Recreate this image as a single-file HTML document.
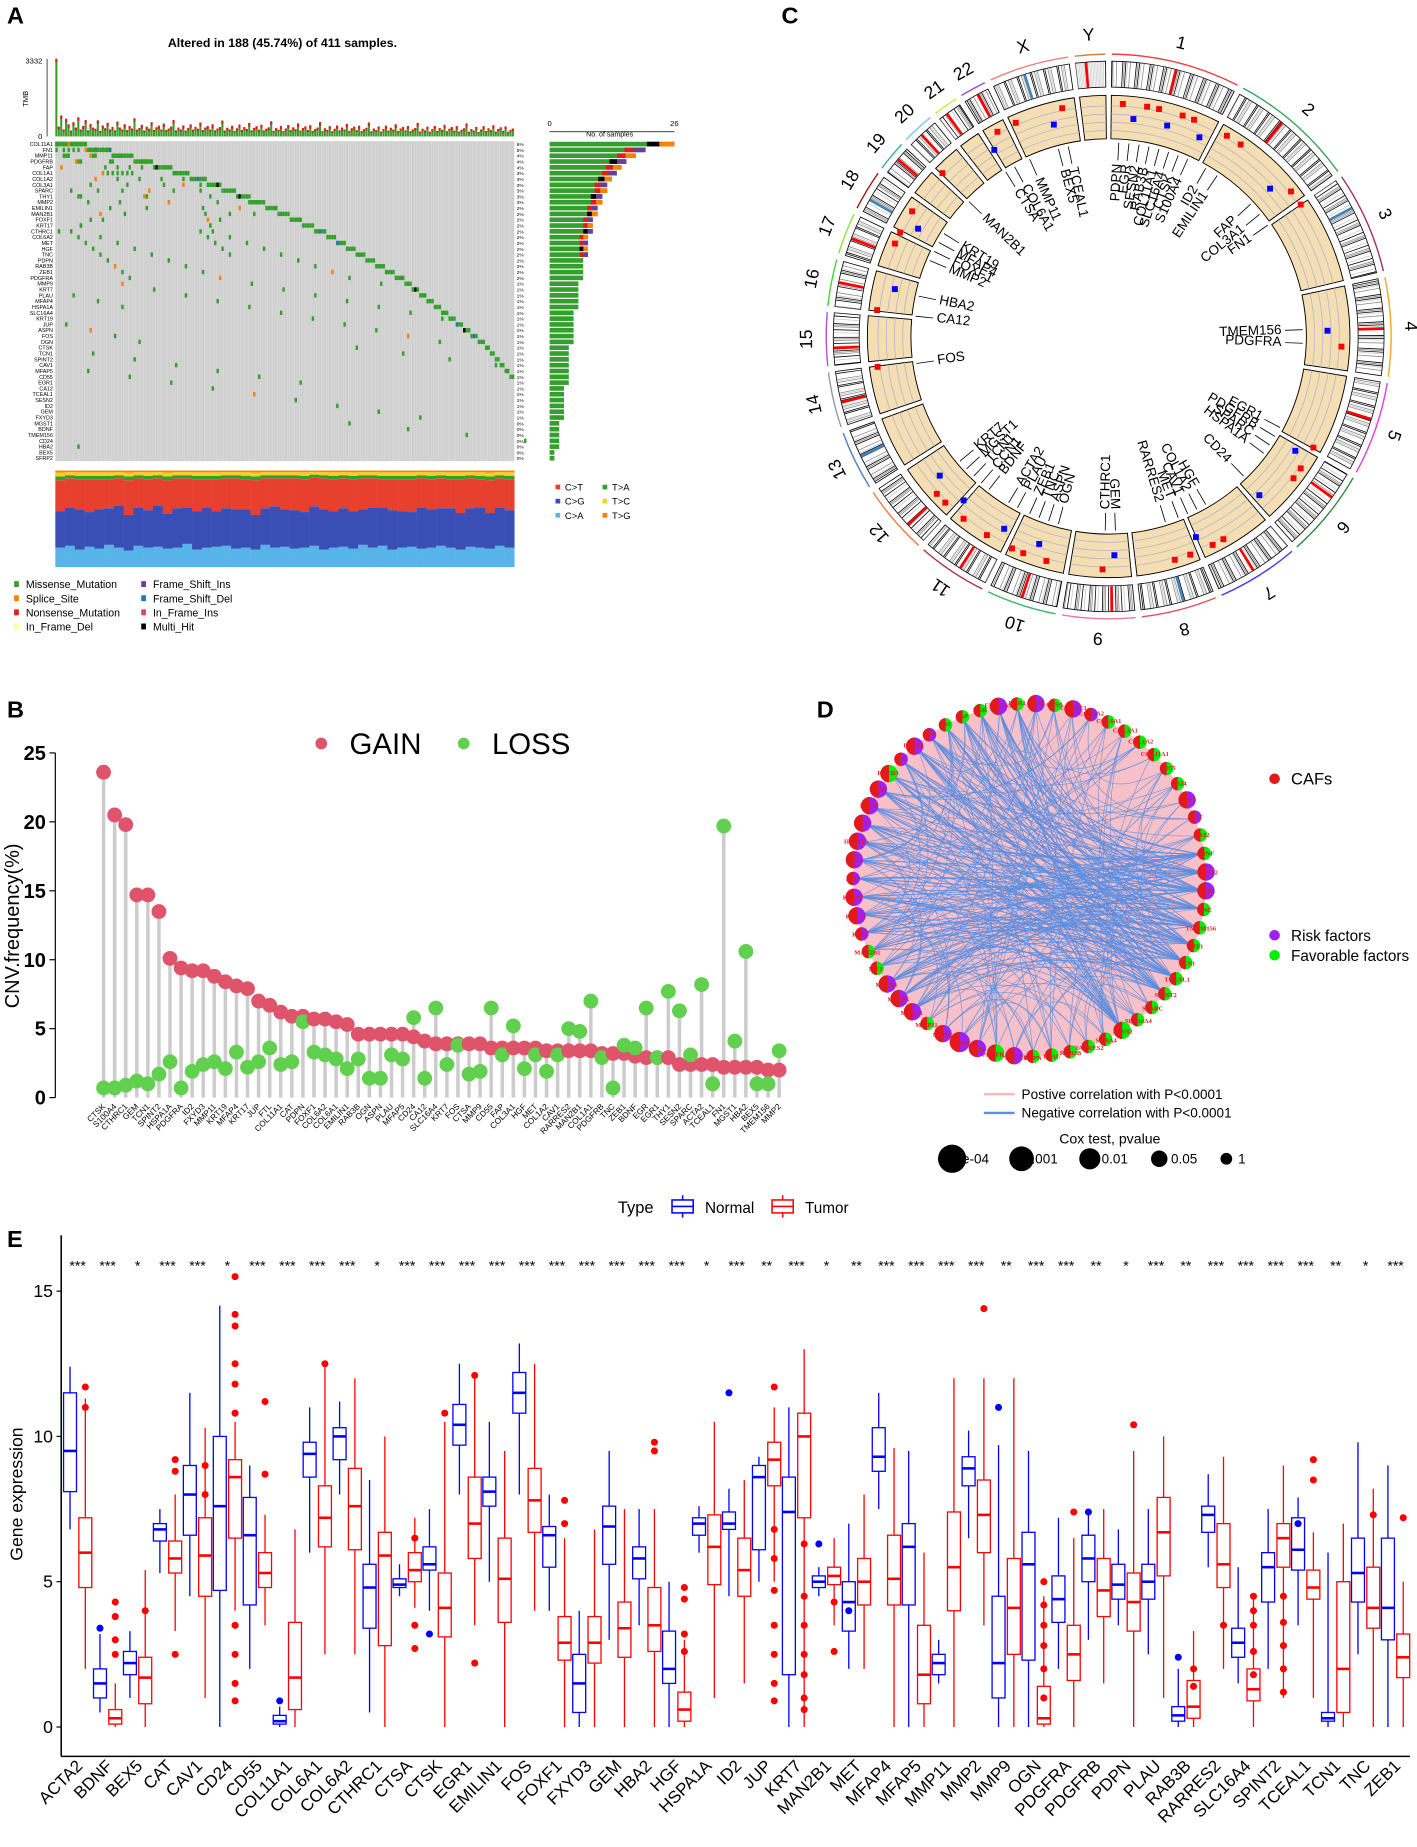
<!DOCTYPE html>
<html><head><meta charset="utf-8"><style>
html,body{margin:0;padding:0;background:#fff}
svg{display:block;font-family:"Liberation Sans",sans-serif}
</style></head><body>
<svg id="fig" xmlns="http://www.w3.org/2000/svg" width="1417" height="1847" viewBox="0 0 1204 1570" preserveAspectRatio="none">
<g font-weight="bold" font-size="20">
<text x="6" y="20">A</text>
<text x="6" y="610">B</text>
<text x="664" y="20">C</text>
<text x="694" y="610">D</text>
<text x="6" y="1060">E</text>
</g>
</svg>
<script>
const NS='http://www.w3.org/2000/svg';
const svg=document.getElementById('fig');
function mk(tag,attrs,parent){const e=document.createElementNS(NS,tag);for(const k in attrs)e.setAttribute(k,attrs[k]);(parent||svg).appendChild(e);return e;}
function tx(s,attrs,parent){const e=mk('text',attrs,parent);e.textContent=s;return e;}

/* ================= PANEL A data ================= */
const tmbValues=[3332,420,900,300,760,520,250,610,380,820,300,450,700,260,540,380,330,690,240,470,350,580,300,410,260,640,380,300,520,270,450,340,780,290,360,500,250,420,330,610,280,390,460,300,550,270,340,420,700,260,380,300,470,250,360,520,290,410,330,600,270,380,450,300,520,260,340,400,680,250,370,300,460,240,350,510,280,400,320,580,260,370,440,290,500,250,330,390,650,240,360,290,450,230,340,490,270,390,310,560,250,360,430,280,480,240,320,380,620,230,350,280,440,220,330,470,260,380,300,540,240,350,420,270,460,230,310,370,600,220,340,270,430,210,320,460,250,370,290,520,230,340,410,260,450,220,300,360,580,210,330,260,420,200,310,450,240,360,280,500,220,330,400,250,440,210,290,350,560,200,320,250,410,190,300,440,230,350,270,480,210,320,390,240,430,200,280,340];
const oncoGenes=['COL11A1','FN1','MMP11','PDGFRB','FAP','COL1A1','COL1A2','COL3A1','SPARC','THY1','MMP2','EMILIN1','MAN2B1','FOXF1','KRT17','CTHRC1','COL6A2','MET','HGF','TNC','PDPN','RAB3B','ZEB1','PDGFRA','MMP9','KRT7','PLAU','MFAP4','HSPA1A','SLC16A4','KRT19','JUP','ASPN','FOS','OGN','CTSK','TCN1','SPINT2','CAV1','MFAP5','CD55','EGR1','CA12','TCEAL1','SESN2','ID2','GEM','FXYD3','MGST1','BDNF','TMEM156','CD24','HBA2','BEX5','SFRP2'];
const oncoCounts=[26,20,18,16,15,14,13,12,12,11,11,10,10,9,9,9,8,8,8,8,7,7,7,7,6,6,6,6,6,5,5,5,5,5,5,4,4,4,4,4,4,4,3,3,3,3,3,3,2,2,2,2,2,1,1];
const titvFracCA=[.2,.22,.18,.21,.19,.23,.2,.17,.22,.2,.21,.19,.2,.24,.18,.2,.21,.22,.19,.2,.18,.23,.2,.21,.19,.2,.22,.18,.2,.21,.19,.23,.2,.22,.18,.2,.21,.19,.2,.22,.2,.18,.21,.2,.19,.22,.2];
const titvFracCG=[.38,.4,.42,.36,.41,.38,.44,.37,.4,.39,.43,.36,.41,.38,.4,.42,.37,.39,.41,.4,.36,.38,.43,.39,.4,.37,.41,.42,.38,.4,.39,.37,.42,.4,.41,.38,.36,.43,.4,.39,.41,.38,.4,.42,.37,.4,.39];
const titvFracCT=[.32,.3,.31,.34,.31,.3,.28,.36,.3,.32,.28,.35,.31,.3,.33,.29,.33,.31,.32,.31,.36,.31,.29,.32,.33,.34,.3,.32,.33,.31,.33,.32,.3,.29,.32,.33,.34,.3,.31,.31,.3,.35,.31,.29,.34,.3,.32];

const gA=mk('g',{});


let t=tx('Altered in 188 (45.74%) of 411 samples.',{x:240,y:40,'font-size':10.5,'font-weight':'bold','text-anchor':'middle'},gA);


const X0=47,X1=437,nS=188,cw=(X1-X0)/nS;
const tmbMax=3332,tmbBase=116,tmbH=66;
function yT(v){return tmbBase-v/tmbMax*tmbH;}
t=tx('3332',{x:36,y:54,'font-size':6.5,'text-anchor':'end'},gA);


t=tx('0',{x:36,y:118,'font-size':6.5,'text-anchor':'end'},gA);


t=tx('TMB',{x:0,y:0,'font-size':6.5,'text-anchor':'middle',transform:'translate(24,84) rotate(-90)'},gA);


let ln=mk('line',{x1:40,y1:50,x2:40,y2:116,stroke:'#000','stroke-width':0.6},gA);


tmbValues.forEach((v,i)=>{
  const x=X0+i*cw, y=yT(v);
  const r=mk('rect',{x:x,y:y,width:cw*0.85,height:tmbBase-y,fill:'#33a02c'},gA);
  
  
  const h=Math.min(3,(tmbBase-y)*0.3);
  const r2=mk('rect',{x:x,y:y,width:cw*0.85,height:h,fill:'#e31a1c'},gA);
  
  
});
const G0=120,rh=(392-G0)/oncoGenes.length;
let bg=mk('rect',{x:X0,y:G0,width:X1-X0,height:392-G0,fill:'#cfcfcf'},gA);


for(let i=1;i<nS;i++){const l=mk('line',{x1:X0+i*cw,y1:G0,x2:X0+i*cw,y2:392,stroke:'#e4e4e4','stroke-width':0.35},gA);}
let start=0;
oncoGenes.forEach((g,i)=>{
  const n=oncoCounts[i];
  const excl=Math.max(1,Math.round(n*0.5));
  const y=G0+i*rh;
  for(let k=0;k<excl&&start+k<nS;k++){
    const c=start+k;
    const col=(c*7+i*3)%23===0?'#000':((c*5+i)%37===0?'#1f78b4':'#33a02c');
    const r=mk('rect',{x:X0+c*cw,y:y+0.6,width:cw,height:rh-1.2,fill:col},gA);
    
    
  }
  for(let k=excl;k<n;k++){
    const c=Math.floor(((k*53+i*31)%Math.max(1,start+excl)));
    const r=mk('rect',{x:X0+c*cw,y:y+0.6,width:cw,height:rh-1.2,fill:(k+i)%9===0?'#ff7f00':'#33a02c'},gA);
    
    
  }
  start+=excl;
  const lab=tx(g,{x:X0-2,y:y+rh-0.8,'font-size':4.6,'text-anchor':'end'},gA);
  
  
  const pc=tx(Math.round(n/411*100)+'%',{x:X1+2,y:y+rh-0.8,'font-size':4.2},gA);
  
  
  const bw=n/26*106;
  const b=mk('rect',{x:467,y:y+0.5,width:bw,height:rh-1,fill:'#33a02c'},gA);
  
  
  if(n>=8){const b2=mk('rect',{x:467+bw*0.78,y:y+0.5,width:bw*0.1,height:rh-1,fill:i%3===0?'#000':'#e31a1c'},gA);
  const b3=mk('rect',{x:467+bw*0.88,y:y+0.5,width:bw*0.12,height:rh-1,fill:i%2===0?'#ff7f00':'#6a3d9a'},gA);}
});
ln=mk('line',{x1:467,y1:112,x2:573,y2:112,stroke:'#000','stroke-width':0.6},gA);


t=tx('0',{x:467,y:107,'font-size':6.5,'text-anchor':'middle'},gA);
t=tx('26',{x:573,y:107,'font-size':6.5,'text-anchor':'middle'},gA);
t=tx('No. of samples',{x:518,y:116,'font-size':6,'text-anchor':'middle'},gA);
const tvTop=400,tvBot=482;
titvFracCA.forEach((ca,gi)=>{
  const cg=titvFracCG[gi],ct=titvFracCT[gi],rest=1-ca-cg-ct;
  const segs=[[ca,'#56b4e9'],[cg,'#3a4fb5'],[ct,'#e8402e'],[rest*0.4,'#33a02c'],[rest*0.4,'#f0d22a'],[rest*0.2,'#ff7f00']];
  const x=X0+gi*(X1-X0)/titvFracCA.length, w=(X1-X0)/titvFracCA.length;
  let yb=tvBot;
  segs.forEach(s=>{const h=s[0]*(tvBot-tvTop);const r=mk('rect',{x:x,y:yb-h,width:w+0.2,height:h,fill:s[1]},gA);yb-=h;});
});
const tvLeg=[['C>T','#e8402e',472,417],['C>G','#3a4fb5',472,429],['C>A','#56b4e9',472,441],['T>A','#33a02c',512,417],['T>C','#f0d22a',512,429],['T>G','#ff7f00',512,441]];
tvLeg.forEach(l=>{const r=mk('rect',{x:l[2],y:l[3]-5,width:4,height:4,fill:l[1]},gA);const tt=tx(l[0],{x:l[2]+8,y:l[3],'font-size':8},gA);});
const mLeg=[['Missense_Mutation','#33a02c',12,500],['Splice_Site','#ff7f00',12,512],['Nonsense_Mutation','#e31a1c',12,524],['In_Frame_Del','#ffff99',12,536],['Frame_Shift_Ins','#6a3d9a',120,500],['Frame_Shift_Del','#1f78b4',120,512],['In_Frame_Ins','#e9415a',120,524],['Multi_Hit','#000',120,536]];
mLeg.forEach(l=>{const r=mk('rect',{x:l[2],y:l[3]-6,width:4,height:5,fill:l[1]},gA);const tt=tx(l[0],{x:l[2]+10,y:l[3],'font-size':9},gA);});

/* ================= PANEL B data ================= */
const cnvGenes=['CTSK','S100A4','CTHRC1','GEM','TCN1','SPINT2','HSPA1A','PDGFRA','ID2','FXYD3','MMP11','KRT19','MFAP4','KRT17','JUP','FTL','COL11A1','CAT','PDPN','FOXF1','COL6A2','COL6A1','EMILIN1','RAB3B','OGN','ASPN','PLAU','MFAP5','CD24','CA12','SLC16A4','KRT7','FOS','CTSA','MMP9','CD55','FAP','COL3A1','HGF','MET','COL1A2','CAV1','RARRES2','MAN2B1','COL1A1','PDGFRB','TNC','ZEB1','BDNF','EGR','EGR1','THY1','SESN2','SPARC','ACTA2','TCEAL1','FN1','MGST1','HBA2','BEX5','TMEM156','MMP2'];
const cnvGain=[23.6,20.5,19.8,14.7,14.7,13.5,10.1,9.4,9.2,9.2,8.8,8.4,8.1,7.9,7.0,6.7,6.2,5.9,5.9,5.7,5.7,5.5,5.3,4.6,4.6,4.6,4.6,4.6,4.4,4.1,3.9,3.9,3.9,3.9,3.9,3.6,3.6,3.6,3.6,3.6,3.4,3.4,3.4,3.4,3.4,3.2,3.2,3.2,3.0,2.9,2.9,2.9,2.4,2.4,2.4,2.4,2.2,2.2,2.2,2.2,2.0,2.0];
const cnvLoss=[0.7,0.7,0.9,1.2,1.0,1.7,2.6,0.7,1.9,2.4,2.6,2.1,3.3,2.2,2.6,3.6,2.4,2.6,5.5,3.3,3.1,2.8,2.1,2.8,1.4,1.4,3.1,2.8,5.8,1.4,6.5,2.4,3.8,1.7,1.9,6.5,3.1,5.2,2.1,3.1,1.9,3.1,5.0,4.8,7.0,2.9,0.7,3.8,3.6,6.5,2.9,7.7,6.3,3.1,8.2,1.0,19.7,4.1,10.6,1.0,1.0,3.4];
const cnvTicks=[0,5,10,15,20,25];
const gB=mk('g',{});


function yB(v){return 933-v/25*293;}
function xB(i){return 88+i*(662-88)/(cnvGenes.length-1);}
ln=mk('line',{x1:47,y1:yB(0),x2:47,y2:yB(25),stroke:'#000','stroke-width':1},gB);

cnvTicks.forEach(v=>{const l=mk('line',{x1:42,y1:yB(v),x2:47,y2:yB(v),stroke:'#000'},gB);const tt=tx(String(v),{x:39,y:yB(v)+6,'font-size':17,'font-weight':'bold','text-anchor':'end'},gB);});
t=tx('CNV.frequency(%)',{x:0,y:0,'font-size':17,'text-anchor':'middle',transform:'translate(16,787) rotate(-90)'},gB);

cnvGenes.forEach((g,i)=>{
  const x=xB(i),top=Math.max(cnvGain[i],cnvLoss[i]);
  const s=mk('line',{x1:x,y1:yB(0),x2:x,y2:yB(top),stroke:'#cccccc','stroke-width':3},gB);
  
});
cnvGenes.forEach((g,i)=>{
  const x=xB(i);
  const c1=mk('circle',{cx:x,cy:yB(cnvGain[i]),r:6.3,fill:'#df536b'},gB);
  
  const c2=mk('circle',{cx:x,cy:yB(cnvLoss[i]),r:6.3,fill:'#61d04f'},gB);
  
  const tt=tx(g,{x:0,y:0,'font-size':7,'text-anchor':'end',transform:`translate(${x+2},${941}) rotate(-45)`},gB);
  
});
let c=mk('circle',{cx:273,cy:632,r:5,fill:'#df536b'},gB);
t=tx('GAIN',{x:297,y:641,'font-size':25},gB);
c=mk('circle',{cx:394,cy:632,r:5,fill:'#61d04f'},gB);
t=tx('LOSS',{x:418,y:641,'font-size':25},gB);

/* ================= PANEL C circos ================= */
const chrNames=['1','2','3','4','5','6','7','8','9','10','11','12','13','14','15','16','17','18','19','20','21','22','X','Y'];
const chrLen=[249,243,198,191,181,171,159,146,141,136,135,134,115,107,103,90,81,78,59,63,48,51,155,59];
const chrCol=['#f23b3b','#3aa55a','#a0306e','#f5a623','#e23ee2','#2f8a3a','#3a3af2','#e05060','#e07aa8','#3ab56a','#b03040','#f07a40','#4a80c8','#9a9a9a','#b050d8','#3ad83a','#90e040','#a01818','#30b0a0','#7ac8e8','#d8e83a','#a050d8','#f08080','#d08040'];
const circGenes=['PDPN','EGR','SESN2','RAB3B','COL11A1','SLC16A4','CTSK','S100A4','ID2','EMILIN1','FAP','COL3A1','FN1','TMEM156','PDGFRA','EGR1','PDGFRB','SPARC','HSPA1A','CD24','HGF','COL1A2','CAV1','MET','RARRES2','GEM','CTHRC1','OGN','ASPN','TNC','ZEB1','PLAU','ACTA2','BDNF','CCN1','TCN1','MGST1','KRT7','FOS','CA12','HBA2','MMP2','FOXF1','MFAP4','KRT19','MAN2B1','CTSA','COL6A1','MMP11','BEX5','TCEAL1'];
const circAngles=[3,6,9,12,15,18,21,24,30,34,47,51,55,88,92,118,121,124,127,136,150,153,156,159,163,178,181,195,198,201,204,208,211,218,221,224,227,230,262,276,282,293,296,299,302,314,328,331,336,345,348];
const gC=mk('g',{});


const CX=942,CY=286;
function pol(r,a){const rad=(a-90)*Math.PI/180;return [CX+r*Math.cos(rad),CY+r*Math.sin(rad)];}
function arcPath(r1,r2,a1,a2){const p1=pol(r2,a1),p2=pol(r2,a2),p3=pol(r1,a2),p4=pol(r1,a1);const lg=(a2-a1)>180?1:0;return `M${p1[0]},${p1[1]} A${r2},${r2} 0 ${lg} 1 ${p2[0]},${p2[1]} L${p3[0]},${p3[1]} A${r1},${r1} 0 ${lg} 0 ${p4[0]},${p4[1]} Z`;}
const gap=1.3,tot=chrLen.reduce((a,b)=>a+b,0),degPer=(360-gap*chrLen.length)/tot;
let ang=gap/2;
chrLen.forEach((L,ci)=>{
  const a1=ang,a2=ang+L*degPer;
  const p1=pol(240,a1),p2=pol(240,a2);
  const arc=mk('path',{d:`M${p1[0]},${p1[1]} A240,240 0 0 1 ${p2[0]},${p2[1]}`,fill:'none',stroke:chrCol[ci],'stroke-width':1.2},gC);
  
  const ib=mk('path',{d:arcPath(212,234,a1,a2),fill:'#fff',stroke:'#000','stroke-width':0.7},gC);
  
  const steps=Math.floor(L/3);
  for(let k=0;k<steps;k++){
    const h=(k*37+ci*11+k*k*3)%9;
    let col=null;
    if(ci===23) col='#d0d0d0';
    else if(h<2) col='#000';
    else if(h<4) col='#8a8a8a';
    else if(h===4) col='#c8c8c8';
    if(col){const b=mk('path',{d:arcPath(212.4,233.6,a1+k*3*degPer,a1+(k*3+1.6)*degPer),fill:col},gC);}
  }
  const cm=(a1+a2)/2-(ci%3)*L*degPer*0.1;
  const cb=mk('path',{d:arcPath(212.4,233.6,cm,cm+0.6),fill:ci%5===2?'#4682b4':'#f00'},gC);
  
  const tb=mk('path',{d:arcPath(168,205,a1,a2),fill:'#f5deb3',stroke:'#000','stroke-width':0.8},gC);
  
  [175,182,189,196].forEach(r=>{const q1=pol(r,a1),q2=pol(r,a2);const l=mk('path',{d:`M${q1[0]},${q1[1]} A${r},${r} 0 0 1 ${q2[0]},${q2[1]}`,fill:'none',stroke:'#a6b4cc','stroke-width':0.6},gC);});
  const lp=pol(256,(a1+a2)/2);
  const lt=tx(chrNames[ci],{x:0,y:0,'font-size':15,'text-anchor':'middle','dominant-baseline':'middle',transform:`translate(${lp[0]},${lp[1]}) rotate(${(a1+a2)/2})`},gC);
  
  ang=a2+gap;
});
circGenes.forEach((g,i)=>{
  const a=circAngles[i];
  const isGain=(i%3)!==1;
  const mp=pol(isGain?198:186,a+0.5);
  const m=mk('rect',{x:mp[0]-2.5,y:mp[1]-2.5,width:5,height:5,fill:isGain?'#f00':'#00f'},gC);
  
  const q1=pol(165,a),q2=pol(150,a);
  const l=mk('line',{x1:q1[0],y1:q1[1],x2:q2[0],y2:q2[1],stroke:'#000','stroke-width':0.7},gC);
  
  const p=pol(147,a);
  let rot,anc;
  if(a<180){rot=a-90;anc='end';}else{rot=a+90;anc='start';}
  const tt=tx(g,{x:0,y:0,'font-size':11.5,'text-anchor':anc,'dominant-baseline':'middle',transform:`translate(${p[0]},${p[1]}) rotate(${rot})`},gC);
  
});

/* ================= PANEL D network ================= */
const netGenes=['CTSK','CTSA','CTHRC1','COL6A2','COL6A1','COL3A1','COL1A2','COL11A1','CD55','CD24','CAV1','CAT','CA12','BDNF','ACTA2','ZEB1','TNC','TMEM156','THY1','TCN1','TCEAL1','SPINT2','SPARC','SLC16A4','SESN2','S100A4','RARRES2','RAB3B','PLAU','PDPN','PDGFRB','PDGFRA','OGN','MMP9','MMP2','MMP11','MGST1','MFAP5','MFAP4','MET','MAN2B1','KRT7','KRT19','KRT17','JUP','ID2','HSPA1A','HGF','HBA2','GEM','FXYD3','FTL','FOXF1','FOS','FN1','FAP','EGR','EMILIN1','EGR1'];
const netPval=[0.01,0.05,0.01,0.05,0.05,0.05,0.05,0.05,0.05,0.05,0.01,0.05,0.05,0.05,0.01,0.01,0.05,0.05,0.05,0.05,0.05,0.05,0.05,0.05,0.01,0.05,0.05,0.05,0.05,0.05,0.01,0.01,0.01,0.001,0.01,0.05,0.01,0.01,0.01,0.05,0.05,0.05,0.01,0.01,0.05,0.01,0.01,0.01,0.01,0.01,0.01,0.05,0.01,0.05,0.05,0.05,0.05,0.01,0.05];
const netRisk=[1,0,1,1,0,0,0,0,0,0,1,1,0,0,1,1,0,0,0,0,0,0,0,0,0,0,0,0,0,0,1,0,1,1,1,0,1,1,1,0,0,1,1,1,1,1,1,1,1,1,0,1,1,1,0,0,0,1,0];
const gD=mk('g',{});


const DX=875,DY=748,DR=150;
let disk=mk('circle',{cx:DX,cy:DY,r:DR,fill:'#f8c0c8'},gD);

const nN=netGenes.length;
function npos(i,r){const a=(i/nN)*360-90+2;const rad=a*Math.PI/180;return [DX+r*Math.cos(rad),DY+r*Math.sin(rad)];}
const hubsRight=[15,14,16,17,18,13,19,20,21,24];
for(let i=36;i<nN;i++){for(let k=0;k<hubsRight.length;k++){
  if((i+k)%3===0)continue;
  const j=hubsRight[k];
  const p=npos(i,DR-4),q=npos(j,DR-4);
  const bend=0.55+((i*7+k*3)%5)*0.06;
  const mx=(p[0]+q[0])/2*(1-bend)+DX*bend,my=(p[1]+q[1])/2*(1-bend)+DY*bend-((i+k)%7-3)*8;
  const e=mk('path',{d:`M${p[0]},${p[1]} Q${mx},${my} ${q[0]},${q[1]}`,fill:'none',stroke:'#5b8de0','stroke-width':0.7,opacity:0.9},gD);
  
}}
for(let i=0;i<nN;i++){for(let k=1;k<=3;k++){
  const j=(i*k*7+k*11+3)%nN;
  if(Math.abs(i-j)<4)continue;
  const p=npos(i,DR-4),q=npos(j,DR-4);
  const mx=(p[0]+q[0])/2*0.5+DX*0.5,my=(p[1]+q[1])/2*0.5+DY*0.5;
  const e=mk('path',{d:`M${p[0]},${p[1]} Q${mx},${my} ${q[0]},${q[1]}`,fill:'none',stroke:'#5b8de0','stroke-width':0.6,opacity:0.8},gD);
  
}}
function pr(p){return p<=0.0001?12:p<=0.001?10.5:p<=0.01?9:p<=0.05?7:5;}
netGenes.forEach((g,i)=>{
  const p=npos(i,DR),r=pr(netPval[i])*0.82;
  const n=mk('circle',{cx:p[0],cy:p[1],r:r,fill:netRisk[i]?'#a020f0':'#00ee00'},gD);
  
  const h=mk('path',{d:`M${p[0]},${p[1]-r} A${r},${r} 0 0 0 ${p[0]},${p[1]+r} Z`,fill:'#e31a1c'},gD);
  
  const lp=npos(i,DR+1);
  const tt=tx(g,{x:lp[0],y:lp[1]+2,'font-size':5.5,'font-family':'Liberation Serif, serif','font-weight':'bold',fill:'#e31a1c','text-anchor':'middle'},gD);
  
});
const dl=[['CAFs','#e31a1c',662,14],['Risk factors','#a020f0',795,13],['Favorable factors','#00ee00',812,13]];
dl.forEach(l=>{const cc=mk('circle',{cx:1083,cy:l[2],r:4.5,fill:l[1]},gD);const tt=tx(l[0],{x:1097,y:l[2]+5,'font-size':l[3]},gD);});
ln=mk('line',{x1:836,y1:930,x2:862,y2:930,stroke:'#ffb6c1','stroke-width':2},gD);
t=tx('Postive correlation with P<0.0001',{x:868,y:934,'font-size':11.5},gD);
ln=mk('line',{x1:836,y1:946,x2:862,y2:946,stroke:'#5b8de0','stroke-width':2},gD);
t=tx('Negative correlation with P<0.0001',{x:868,y:950,'font-size':11.5},gD);
t=tx('Cox test, pvalue',{x:900,y:972,'font-size':12},gD);
const coxLeg=[['1e-04',12,809],['0.001',10.5,868],['0.01',9,926],['0.05',7,985],['1',5,1042]];
coxLeg.forEach(l=>{const cc=mk('circle',{cx:l[2],cy:985,r:l[1],fill:'#000'},gD);const tt=tx(l[0],{x:l[2]+(l[1]>9?2:10),y:989,'font-size':11.5},gD);});

/* ================= PANEL E boxplots ================= */
const exprGenes=['ACTA2','BDNF','BEX5','CAT','CAV1','CD24','CD55','COL11A1','COL6A1','COL6A2','CTHRC1','CTSA','CTSK','EGR1','EMILIN1','FOS','FOXF1','FXYD3','GEM','HBA2','HGF','HSPA1A','ID2','JUP','KRT7','MAN2B1','MET','MFAP4','MFAP5','MMP11','MMP2','MMP9','OGN','PDGFRA','PDGFRB','PDPN','PLAU','RAB3B','RARRES2','SLC16A4','SPINT2','TCEAL1','TCN1','TNC','ZEB1'];
const exprSig=['***','***','*','***','***','*','***','***','***','***','*','***','***','***','***','***','***','***','***','***','***','*','***','**','***','*','**','***','***','***','***','**','***','***','**','*','***','**','***','***','***','***','**','*','***'];
const normalStats=[[6.8,8.1,9.5,11.5,12.4],[0.5,1.0,1.5,2.0,3.2],[1,1.8,2.2,2.6,3.3],[5.3,6.4,6.8,7.0,7.5],[4.5,6.6,8.0,9.0,11.5],[0,4.7,7.6,10,14.5],[2,4.2,6.6,7.9,9.0],[0,0.1,0.2,0.4,0.7],[6,8.6,9.4,9.8,11],[8,9.2,10,10.3,11.2],[0.5,3.4,4.8,5.6,8.5],[4.5,4.8,4.9,5.1,5.6],[4,5.4,5.6,6.2,7.5],[8,9.7,10.4,11.1,12.5],[5,7.6,8.1,8.6,10.5],[8,10.8,11.5,12.2,13.2],[4,5.5,6.6,6.9,8],[0,0.5,1.5,2.5,4],[3,5.6,6.9,7.6,9.5],[3.5,5.1,5.8,6.2,7.5],[0,1.5,2.0,3.3,5],[6,6.6,7.0,7.2,7.6],[4.5,6.8,7.0,7.4,8.2],[5,6.1,8.6,9.0,9.3],[0,1.8,7.4,8.6,11],[4.5,4.8,5.0,5.2,5.5],[2,3.3,4.3,5.0,7.0],[7.5,8.8,9.3,10.3,11.5],[0,4.2,6.2,7.0,9.5],[1.5,1.8,2.2,2.5,3],[6.5,8.3,8.9,9.3,10.2],[0,1.0,2.2,4.5,9.7],[0,2.3,5.6,6.7,9.5],[2,3.6,4.4,5.2,7.2],[3,5.0,5.8,6.6,7.5],[3.5,4.4,4.9,5.6,6.8],[2.5,4.4,5.0,5.6,7.5],[0,0.2,0.4,0.7,2],[5.5,6.7,7.3,7.6,8.7],[1.5,2.4,2.9,3.4,5.5],[2,4.3,5.5,6.0,7.5],[3.5,5.4,6.1,7.2,7.9],[0,0.2,0.3,0.5,6.0],[2.5,4.3,5.3,6.5,9.8],[0,3.0,4.1,6.5,9]];
const tumorStats=[[2,4.8,6,7.2,11.3],[0,0.1,0.3,0.6,1.5],[0,0.8,1.7,2.4,5.4],[3.3,5.3,5.8,6.4,8.0],[1,4.5,5.9,7.2,10.3],[4,6.5,8.6,9.2,10.5],[3.5,4.8,5.3,6.0,7.3],[0,0.6,1.7,3.6,6.8],[2.5,6.2,7.2,8.3,12.5],[2.5,6.1,7.6,8.9,12],[0,2.8,5.9,6.7,10],[4.1,5.0,5.4,6.0,7.2],[0,3.1,4.1,5.3,10.5],[3.5,5.8,7.0,8.6,12],[0,3.6,5.1,6.5,9.5],[4,6.7,7.8,8.9,12.5],[0,2.3,2.9,3.8,6.5],[0,2.2,2.9,3.8,6.8],[0,2.4,3.4,4.3,7.5],[0,2.6,3.5,4.8,7.5],[0,0.2,0.6,1.2,3],[1,4.9,6.2,7.3,10.5],[1.5,4.5,5.4,6.5,8.5],[5,8.3,9.2,9.8,11],[0,7.2,10,10.8,13],[3.5,4.9,5.2,5.5,6.5],[2,4.2,5.0,5.8,8.0],[0,4.2,5.1,6.6,9.6],[0,0.8,1.8,3.5,6],[0,4.0,5.5,7.4,12],[3.5,6,7.3,8.5,12],[0,2.5,4.1,5.8,12],[0,0.1,0.3,1.4,4.5],[0,1.6,2.5,3.5,6.5],[1.5,3.8,4.7,5.8,7.5],[0,3.3,4.3,5.3,9.5],[1,5.2,6.7,7.9,10],[0,0.3,0.7,1.6,3.3],[2,4.8,5.6,7.0,9.3],[0,0.9,1.3,2.0,4.5],[1,5.5,6.5,7.0,9],[1,4.4,4.8,5.4,6.7],[0,0.5,2,5,7],[0,3.4,4.1,5.5,8.2],[0,1.7,2.4,3.2,5]];
const outGene=[0,0,1,1,1,1,1,2,3,3,3,4,4,5,5,5,5,5,5,5,5,5,5,6,6,7,8,11,11,11,12,12,13,13,16,16,19,19,20,20,20,20,22,23,23,23,23,23,23,23,23,24,24,24,24,24,24,24,25,25,25,26,30,31,32,32,32,32,32,32,33,34,35,37,37,37,38,39,39,39,39,39,40,40,40,40,40,41,41,41,43,44];
const outGroup=['T','T','T','T','T','T','N','T','T','T','T','T','T','T','T','T','T','T','T','T','T','T','T','T','T','N','T','T','T','T','N','T','T','T','T','T','T','T','T','T','T','T','N','T','T','T','T','T','T','T','T','T','T','T','T','T','T','T','T','T','N','N','T','N','T','T','T','T','T','T','T','N','T','N','T','T','T','T','T','T','T','T','T','T','T','T','T','T','T','N','T'];
const outValue=[11.7,11.0,3.8,4.3,2.5,3.0,3.4,4.0,8.8,9.2,2.5,9.0,8.0,15.5,14.2,13.8,12.5,11.8,10.8,3.5,2.5,1.5,0.9,11.2,8.7,0.9,12.5,3.5,2.7,6.5,3.2,10.8,2.2,12.1,7.8,7.0,9.8,9.5,4.8,4.4,3.2,2.6,11.5,11.7,6.8,5.8,4.7,3.5,2.5,1.5,0.9,4.5,3.5,2.5,1.8,1.0,0.6,6.3,4.3,2.6,6.3,4.0,14.4,11.0,5.0,4.2,3.5,2.8,2.0,1.0,7.4,7.4,10.4,2.4,2.0,1.4,3.5,4.5,4.0,3.5,2.6,1.8,4.5,3.6,2.8,2.0,1.2,9.2,8.5,7.0,7.3,7.2];
const exprTicks=[0,5,10,15];
const gE=mk('g',{});


function yE(v){return 1468-v*24.7;}
function xE(i){return 66+i*25.45;}
ln=mk('line',{x1:52,y1:1050,x2:52,y2:1493,stroke:'#000','stroke-width':1.3},gE);
ln=mk('line',{x1:52,y1:1493,x2:1198,y2:1493,stroke:'#000','stroke-width':1.3},gE);
exprTicks.forEach(v=>{const l=mk('line',{x1:48,y1:yE(v),x2:52,y2:yE(v),stroke:'#000'},gE);const tt=tx(String(v),{x:45,y:yE(v)+5,'font-size':15,'text-anchor':'end'},gE);});
t=tx('Gene expression',{x:0,y:0,'font-size':15,'text-anchor':'middle',transform:'translate(19,1270) rotate(-90)'},gE);
function drawBox(x,s,col,name){
  const g=mk('g',{},gE);
  
  
  mk('line',{x1:x,y1:yE(s[0]),x2:x,y2:yE(s[1]),stroke:col,'stroke-width':1.1},g);
  mk('line',{x1:x,y1:yE(s[3]),x2:x,y2:yE(s[4]),stroke:col,'stroke-width':1.1},g);
  mk('rect',{x:x-5.5,y:yE(s[3]),width:11,height:Math.max(0.5,yE(s[1])-yE(s[3])),fill:'#fff',stroke:col,'stroke-width':1.1},g);
  mk('line',{x1:x-5.5,y1:yE(s[2]),x2:x+5.5,y2:yE(s[2]),stroke:col,'stroke-width':2.2},g);
}
exprGenes.forEach((g,i)=>{
  drawBox(xE(i)-6.5,normalStats[i],'#0000ff','normal-box');
  drawBox(xE(i)+6.5,tumorStats[i],'#ff0000','tumor-box');
  const st=tx(exprSig[i],{x:xE(i),y:1080,'font-size':12,'text-anchor':'middle'},gE);
  
  const lb=tx(g,{x:0,y:0,'font-size':14.5,'text-anchor':'end',transform:`translate(${xE(i)+5},${1502}) rotate(-45)`},gE);
  
});
outGene.forEach((gi,k)=>{
  const isN=outGroup[k]==='N';
  const o=mk('circle',{cx:xE(gi)+(isN?-6.5:6.5),cy:yE(outValue[k]),r:3,fill:isN?'#0000ff':'#ff0000'},gE);
  
});
t=tx('Type',{x:525,y:1031,'font-size':14},gE);
const tl=[['Normal','#0000ff',571],['Tumor','#ff0000',656]];
tl.forEach(l=>{const g=mk('g',{},gE);
  mk('rect',{x:l[2],y:1020,width:18,height:11,fill:'#fff',stroke:l[1],'stroke-width':1.3},g);
  mk('line',{x1:l[2],y1:1025.5,x2:l[2]+18,y2:1025.5,stroke:l[1],'stroke-width':1.3},g);
  mk('line',{x1:l[2]+9,y1:1016,x2:l[2]+9,y2:1020,stroke:l[1],'stroke-width':1.3},g);
  mk('line',{x1:l[2]+9,y1:1031,x2:l[2]+9,y2:1035,stroke:l[1],'stroke-width':1.3},g);
  tx(l[0],{x:l[2]+28,y:1031,'font-size':13},g);
});
</script>
</body></html>
